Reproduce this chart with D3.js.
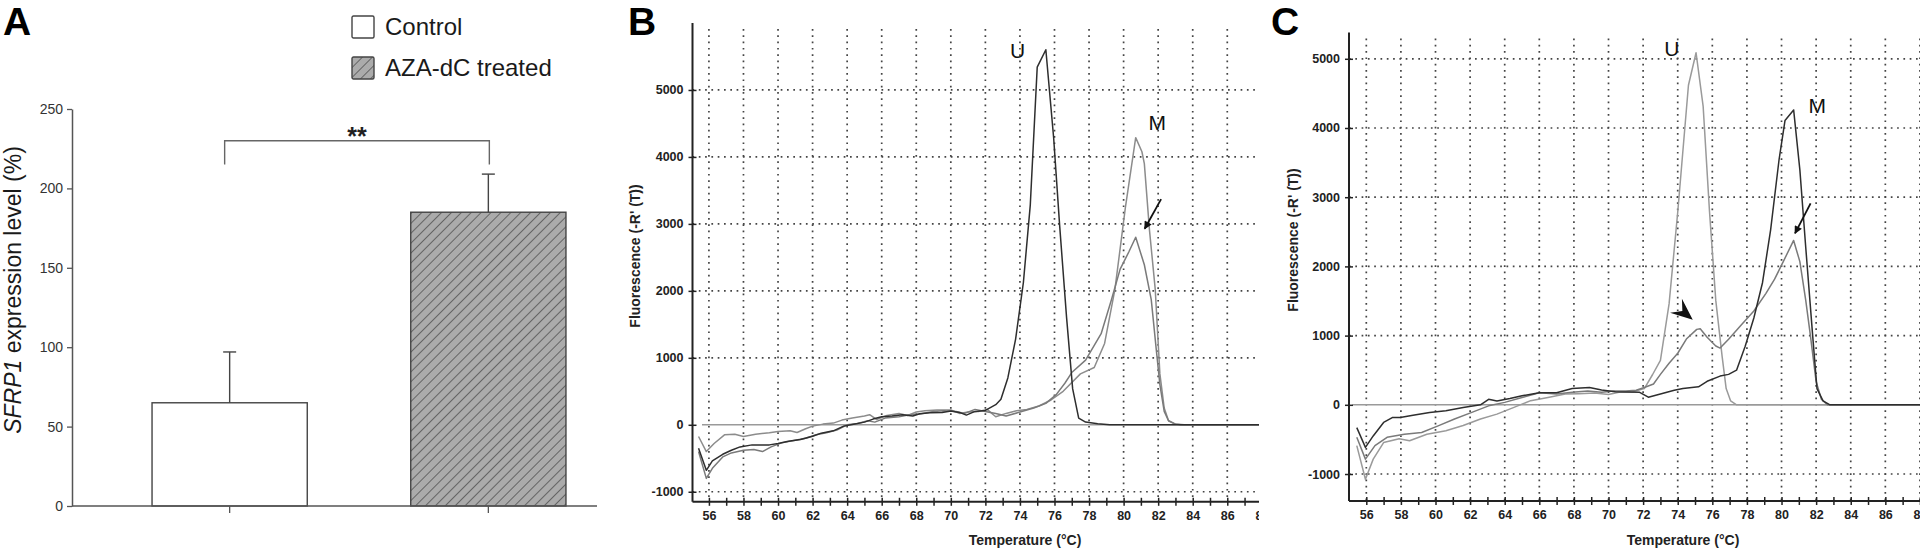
<!DOCTYPE html>
<html>
<head>
<meta charset="utf-8">
<script src="https://cdn.jsdelivr.net/npm/d3@7"></script>
<style>
body { margin: 0; background: #fff; }
svg { display: block; }
</style>
</head>
<body>
<svg width="1920" height="554"></svg>
<script>
// ---- panel A data ----
var groups = ['Control', 'AZA-dC treated'];
var expression = [65, 185];
var expressionErr = [32, 24];
var yTicksA = [0, 50, 100, 150, 200, 250];
var bracketLevel = [215, 230]; // legs end, top line
var signifText = '**';

// ---- melt curve data (temperature °C, -R'(T)) ----
var tempTicks = d3.range(56, 89, 2);
var tempMinor = d3.range(57, 89, 2);
var fluorLabels = [-1000, 0, 1000, 2000, 3000, 4000, 5000];
var fluorGrid = [-1000, 1000, 2000, 3000, 4000, 5000];

var bCurveU = [[55.4,-350],[55.85,-680],[56.2,-540],[56.8,-440],[57.3,-380],[57.8,-330],[58.5,-300],[59.5,-300],[60,-280],[60.6,-245],[61.3,-220],[62,-170],[62.5,-125],[63.2,-90],[63.8,-20],[64.3,5],[65,40],[65.5,85],[66,120],[66.6,130],[67.2,150],[67.8,130],[68.2,165],[68.8,180],[69.5,185],[70,205],[70.5,185],[70.9,145],[71.4,200],[72,215],[72.6,300],[72.9,380],[73.3,700],[73.75,1280],[74.2,2125],[74.6,3285],[75.0,5340],[75.5,5600],[75.95,4290],[76.3,2970],[76.7,1600],[77.05,540],[77.4,100],[77.8,40],[78.5,15],[79.2,0],[88.5,0]];
var bCurveM1 = [[55.4,-175],[55.85,-400],[56.3,-280],[56.9,-150],[57.5,-140],[58,-175],[58.7,-140],[59.5,-120],[60,-100],[60.7,-90],[61.1,-115],[61.6,-60],[62,-20],[62.6,10],[63.2,25],[63.7,70],[64.3,100],[65,130],[65.3,150],[65.7,80],[66.3,140],[67,170],[67.5,140],[68,190],[68.5,210],[69.2,220],[70,220],[70.5,170],[71,190],[71.6,200],[72.1,230],[72.6,120],[73.2,170],[73.8,210],[74.4,230],[75.1,280],[75.8,370],[76.5,500],[77.5,760],[78.3,855],[78.9,1215],[79.5,2025],[80.1,3240],[80.7,4288],[81.06,4077],[81.2,3900],[81.5,2900],[81.83,2025],[82.1,760],[82.35,250],[82.6,60],[83,10],[83.5,0],[88.5,0]];
var bCurveM2 = [[55.4,-400],[55.85,-800],[56.2,-650],[56.8,-480],[57.3,-420],[58,-380],[58.6,-370],[59.1,-400],[59.6,-330],[60.2,-270],[61,-230],[61.6,-200],[62.2,-150],[62.8,-120],[63.4,-80],[64,0],[64.6,20],[65.2,60],[65.6,40],[66.2,100],[67,120],[67.6,150],[68.2,160],[69,200],[69.6,210],[70.3,200],[70.8,170],[71.4,230],[72,200],[72.6,170],[73.2,130],[74,190],[74.8,250],[75.5,320],[76.1,450],[76.6,620],[77.0,780],[77.8,965],[78.7,1360],[79.3,1870],[79.8,2325],[80.3,2580],[80.7,2800],[81.2,2390],[81.6,1870],[81.9,1100],[82.1,600],[82.35,200],[82.6,60],[83,10],[83.3,0],[88.5,0]];

var cCurveU = [[55.45,-590],[55.95,-1075],[56.4,-785],[57,-545],[57.9,-490],[58.5,-520],[59.5,-425],[60.6,-375],[61.6,-300],[62.6,-205],[63.55,-135],[64.5,-40],[65.5,60],[66.5,105],[67.5,155],[68.3,160],[69.2,170],[70,150],[70.6,180],[71.4,190],[72.07,234],[72.55,438],[73.0,642],[73.5,1458],[74.0,2783],[74.62,4618],[75.06,5087],[75.47,4312],[75.84,2783],[76.2,1509],[76.57,693],[76.8,234],[77.06,56],[77.4,0],[88.5,0]];
var cCurveM = [[55.45,-330],[55.95,-615],[56.4,-450],[57,-255],[57.5,-185],[57.96,-185],[58.7,-150],[59.66,-110],[60.6,-85],[61.6,-40],[62.6,0],[63.07,80],[63.55,55],[64.3,90],[65,130],[66,175],[67,175],[67.9,235],[68.9,250],[69.6,215],[70.4,190],[71.1,185],[71.8,180],[72.3,110],[73,155],[73.8,210],[74.3,235],[75.2,260],[75.7,340],[76.45,415],[76.94,440],[77.4,500],[77.9,846],[78.4,1254],[78.9,1764],[79.37,2528],[79.86,3548],[80.2,4108],[80.7,4261],[81.06,3395],[81.4,2273],[81.8,999],[82.05,234],[82.4,56],[82.8,0],[88.5,0]];
var cCurveM2 = [[55.45,-470],[55.95,-785],[56.5,-590],[57.2,-470],[58.2,-425],[59.2,-400],[60.15,-305],[61.1,-205],[62.1,-110],[63.07,-15],[64,35],[65,105],[66,175],[67,155],[67.9,180],[68.8,200],[69.6,180],[70.3,200],[71,200],[71.6,210],[72.07,250],[72.6,300],[73.0,440],[73.5,600],[74.0,745],[74.5,950],[75.1,1090],[75.3,1100],[75.7,975],[76.2,850],[76.45,820],[76.94,948],[77.67,1152],[78.4,1356],[79.1,1611],[79.6,1815],[80.1,2069],[80.7,2375],[81.06,2069],[81.4,1509],[81.67,999],[82.0,336],[82.3,82],[82.65,0],[88.5,0]];

// peak labels and arrows [temp, value]
var bLabels = [{t: 'U', at: [73.86, 5475]}, {t: 'M', at: [81.95, 4400]}];
var cLabels = [{t: 'U', at: [73.66, 5046]}, {t: 'M', at: [82.07, 4220]}];
var bArrow = [[82.17, 3370], [81.22, 2927]];
var cArrow = [[81.68, 2910], [80.78, 2477]];
var cArrowHead = [[73.9, 1432], [74.87, 1228]];

var FONT = '"Liberation Sans", Arial, Helvetica, sans-serif';
var svg = d3.select('svg').style('font-family', FONT);
var defs = svg.append('defs');

// hatch fill
var hatch = defs.append('pattern')
	.attr('id', 'hatch')
	.attr('patternUnits', 'userSpaceOnUse')
	.attr('width', 7)
	.attr('height', 7)
	.attr('patternTransform', 'rotate(45)');
hatch.append('rect').attr('width', 7).attr('height', 7).attr('fill', '#ababab');
hatch.append('line').attr('x1', 0).attr('y1', 0).attr('x2', 0).attr('y2', 7)
	.attr('stroke', '#333').attr('stroke-width', 1.2);

defs.append('marker')
	.attr('id', 'arrowHead')
	.attr('viewBox', '0 0 10 10')
	.attr('refX', 9)
	.attr('refY', 5)
	.attr('markerUnits', 'userSpaceOnUse')
	.attr('markerWidth', 10)
	.attr('markerHeight', 8)
	.attr('orient', 'auto')
	.append('path')
	.attr('d', 'M0,0 L10,5 L0,10 Z')
	.attr('fill', '#111');

defs.append('clipPath').attr('id', 'clipB')
	.append('rect').attr('x', 560).attr('y', 0).attr('width', 699).attr('height', 554);
defs.append('clipPath').attr('id', 'clipC')
	.append('rect').attr('x', 1262).attr('y', 0).attr('width', 660).attr('height', 554);

// ================= panel A =================
var xA = d3.scaleBand().domain(groups).range([100.3, 617.7]).paddingInner(0.4).paddingOuter(0.2);
var yA = d3.scaleLinear().domain([0, 250]).range([506, 109]);
var gA = svg.append('g');

gA.append('text').attr('x', 3).attr('y', 35).text('A')
	.style('font-size', '39px').style('font-weight', 'bold').attr('fill', '#000');

// bars
gA.selectAll('.bar')
	.data(groups)
	.join('rect')
	.attr('class', 'bar')
	.attr('x', (d) => xA(d))
	.attr('width', xA.bandwidth())
	.attr('y', (d, i) => yA(expression[i]))
	.attr('height', (d, i) => yA(0) - yA(expression[i]))
	.attr('fill', (d, i) => (i == 0 ? '#fff' : 'url(#hatch)'))
	.attr('stroke', '#444')
	.attr('stroke-width', 1.4);

// error bars (upper only)
groups.forEach(function(d, i) {
	var cx = xA(d) + xA.bandwidth() / 2;
	var top = yA(expression[i] + expressionErr[i]);
	gA.append('line').attr('x1', cx).attr('x2', cx).attr('y1', yA(expression[i])).attr('y2', top)
		.attr('stroke', '#444').attr('stroke-width', 1.4);
	gA.append('line').attr('x1', cx - 6.5).attr('x2', cx + 6.5).attr('y1', top).attr('y2', top)
		.attr('stroke', '#444').attr('stroke-width', 1.4);
});

// significance bracket
var bx0 = xA(groups[0]) + xA.bandwidth() / 2 - 5;
var bx1 = xA(groups[1]) + xA.bandwidth() / 2 + 1;
gA.append('path')
	.attr('d', 'M' + bx0 + ',' + yA(bracketLevel[0]) + ' V' + yA(bracketLevel[1]) + ' H' + bx1 + ' V' + yA(bracketLevel[0]))
	.attr('fill', 'none').attr('stroke', '#666').attr('stroke-width', 1.4);
gA.append('text').attr('x', (bx0 + bx1) / 2).attr('y', yA(bracketLevel[1]) + 4)
	.attr('text-anchor', 'middle').style('font-size', '25px').style('font-weight', 'bold')
	.attr('fill', '#222').text(signifText);

// axes
var axisA = gA.append('g').attr('transform', 'translate(72,0)')
	.call(d3.axisLeft(yA).tickValues(yTicksA).tickSize(5).tickPadding(4).tickSizeOuter(0));
axisA.select('.domain').attr('stroke', '#555').attr('stroke-width', 1.5);
axisA.selectAll('.tick line').attr('stroke', '#555').attr('stroke-width', 1.3);
axisA.selectAll('.tick text').style('font-size', '14px').style('font-family', FONT).attr('fill', '#333');

gA.append('line').attr('x1', 72).attr('x2', 597).attr('y1', yA(0)).attr('y2', yA(0))
	.attr('stroke', '#555').attr('stroke-width', 1.5);
gA.selectAll('.xtickA')
	.data(groups)
	.join('line')
	.attr('x1', (d) => xA(d) + xA.bandwidth() / 2)
	.attr('x2', (d) => xA(d) + xA.bandwidth() / 2)
	.attr('y1', yA(0))
	.attr('y2', yA(0) + 7)
	.attr('stroke', '#555').attr('stroke-width', 1.3);

var yTitle = gA.append('text')
	.attr('transform', 'translate(21,290) rotate(-90)')
	.attr('text-anchor', 'middle')
	.style('font-size', '23px')
	.attr('fill', '#1a1a1a');
yTitle.append('tspan').style('font-style', 'italic').text('SFRP1');
yTitle.append('tspan').text(' expression level (%)');

// legend
var legend = gA.selectAll('.legend')
	.data(groups)
	.join('g')
	.attr('class', 'legend')
	.attr('transform', (d, i) => 'translate(352,' + (16 + i * 41) + ')');
legend.append('rect').attr('width', 22).attr('height', 22).attr('rx', 1.5)
	.attr('fill', (d, i) => (i == 0 ? '#fff' : 'url(#hatch)'))
	.attr('stroke', '#444').attr('stroke-width', 1.4);
legend.append('text').attr('x', 33).attr('y', 19).text((d) => d)
	.style('font-size', '24px').attr('fill', '#1a1a1a');

// ================= melt panels =================
function drawMelt(p) {
	var x = d3.scaleLinear().domain(p.tDomain).range(p.xRange);
	var y = d3.scaleLinear().domain(p.fDomain).range(p.yRange);
	var g = svg.append('g').attr('clip-path', 'url(#' + p.clip + ')');

	svg.append('text').attr('x', p.letterX).attr('y', 35).text(p.letter)
		.style('font-size', '39px').style('font-weight', 'bold').attr('fill', '#000');

	// dotted grid
	g.selectAll('.vgrid')
		.data(tempTicks)
		.join('line')
		.attr('x1', (d) => x(d)).attr('x2', (d) => x(d))
		.attr('y1', y(p.fDomain[1]) + 6).attr('y2', y(p.fDomain[0]))
		.attr('stroke', '#444').attr('stroke-width', 1.7).attr('stroke-dasharray', '1.7,4.6');
	g.selectAll('.hgrid')
		.data(fluorGrid)
		.join('line')
		.attr('x1', x(p.tDomain[0])).attr('x2', x(p.tDomain[1]))
		.attr('y1', (d) => y(d)).attr('y2', (d) => y(d))
		.attr('stroke', '#444').attr('stroke-width', 1.7).attr('stroke-dasharray', '1.7,4.6');

	// zero baseline
	g.append('line').attr('x1', x(p.zeroFrom)).attr('x2', x(p.tDomain[1]))
		.attr('y1', y(0)).attr('y2', y(0))
		.attr('stroke', '#9a9a9a').attr('stroke-width', 1.6);

	var line = d3.line().x((d) => x(d[0])).y((d) => y(d[1])).curve(d3.curveLinear);
	p.curves.forEach(function(c) {
		g.append('path').attr('d', line(c.data)).attr('fill', 'none')
			.attr('stroke', c.color).attr('stroke-width', 1.5).attr('stroke-linejoin', 'round');
	});

	// axes
	var ax = g.append('g').attr('transform', 'translate(' + x(p.tDomain[0]) + ',0)');
	ax.call(d3.axisLeft(y).tickValues(d3.range(-1000, p.fDomain[1] + 1, 500)).tickSize(4).tickFormat('').tickSizeOuter(0));
	ax.call(d3.axisLeft(y).tickValues(fluorLabels).tickSize(4).tickPadding(5).tickSizeOuter(0)
		.tickFormat((d) => String(d)));
	ax.selectAll('.tick line').attr('x1', 4).attr('stroke', '#222').attr('stroke-width', 1.5);
	ax.select('.domain').attr('d', 'M0,' + y(p.fDomain[1]) + ' V' + y(p.fDomain[0]))
		.attr('stroke', '#222').attr('stroke-width', 2);
	ax.selectAll('.tick text').style('font-size', '12.5px').style('font-weight', 'bold')
		.style('font-family', FONT).attr('fill', '#222');

	var bx = g.append('g').attr('transform', 'translate(0,' + y(p.fDomain[0]) + ')');
	bx.append('g').call(d3.axisBottom(x).tickValues(tempMinor).tickSize(4).tickFormat('').tickSizeOuter(0))
		.select('.domain').remove();
	bx.append('g').call(d3.axisBottom(x).tickValues(tempTicks).tickSize(4).tickPadding(5).tickSizeOuter(0));
	bx.selectAll('.tick line').attr('y1', -4).attr('stroke', '#222').attr('stroke-width', 1.5);
	bx.selectAll('.domain').attr('d', 'M' + x(p.tDomain[0]) + ',0 H' + x(p.tDomain[1]))
		.attr('stroke', '#222').attr('stroke-width', 2);
	bx.selectAll('.tick text').style('font-size', '12.5px').style('font-weight', 'bold')
		.style('font-family', FONT).attr('fill', '#222');

	// axis titles
	g.append('text')
		.attr('transform', 'translate(' + p.yTitle[0] + ',' + p.yTitle[1] + ') rotate(-90)')
		.attr('text-anchor', 'middle').style('font-size', '14px').style('font-weight', 'bold')
		.attr('fill', '#222').text("Fluorescence (-R' (T))");
	g.append('text').attr('x', p.xTitleX).attr('y', 545).attr('text-anchor', 'middle')
		.style('font-size', '14px').style('font-weight', 'bold').attr('fill', '#222')
		.text('Temperature (°C)');

	// peak labels
	g.selectAll('.peak')
		.data(p.labels)
		.join('text')
		.attr('x', (d) => x(d.at[0])).attr('y', (d) => y(d.at[1]))
		.attr('text-anchor', 'middle').style('font-size', '21px').attr('fill', '#111')
		.text((d) => d.t);

	// arrow
	g.append('line')
		.attr('x1', x(p.arrow[0][0])).attr('y1', y(p.arrow[0][1]))
		.attr('x2', x(p.arrow[1][0])).attr('y2', y(p.arrow[1][1]))
		.attr('stroke', '#111').attr('stroke-width', 1.8)
		.attr('marker-end', 'url(#arrowHead)');

	if (p.arrowHead) {
		var bk = [x(p.arrowHead[0][0]), y(p.arrowHead[0][1])];
		var tp = [x(p.arrowHead[1][0]), y(p.arrowHead[1][1])];
		var len = Math.hypot(tp[0] - bk[0], tp[1] - bk[1]);
		var ang = Math.atan2(tp[1] - bk[1], tp[0] - bk[0]) * 180 / Math.PI;
		g.append('path')
			.attr('d', 'M0,0 L' + -len + ',' + -len * 0.42 + ' L' + -len * 0.62 + ',0 L' + -len + ',' + len * 0.42 + ' Z')
			.attr('transform', 'translate(' + tp[0] + ',' + tp[1] + ') rotate(' + ang + ')')
			.attr('fill', '#111');
	}
}

drawMelt({
	letter: 'B',
	letterX: 628,
	clip: 'clipB',
	tDomain: [55.05, 88.05],
	xRange: [692.5, 1262.7],
	fDomain: [-1150, 6000],
	yRange: [501.8, 23],
	zeroFrom: 55.6,
	yTitle: [640, 256],
	xTitleX: 1025,
	labels: bLabels,
	arrow: bArrow,
	curves: [
		{ data: bCurveM1, color: '#8c8c8c' },
		{ data: bCurveM2, color: '#7a7a7a' },
		{ data: bCurveU, color: '#2e2e2e' }
	]
});

drawMelt({
	letter: 'C',
	letterX: 1271,
	clip: 'clipC',
	tDomain: [55.0, 88.05],
	xRange: [1349, 1920.8],
	fDomain: [-1390, 5380],
	yRange: [501, 32.5],
	zeroFrom: 55.2,
	yTitle: [1298, 240],
	xTitleX: 1683,
	labels: cLabels,
	arrow: cArrow,
	arrowHead: cArrowHead,
	curves: [
		{ data: cCurveU, color: '#9a9a9a' },
		{ data: cCurveM2, color: '#7a7a7a' },
		{ data: cCurveM, color: '#2e2e2e' }
	]
});
</script>
</body>
</html>
